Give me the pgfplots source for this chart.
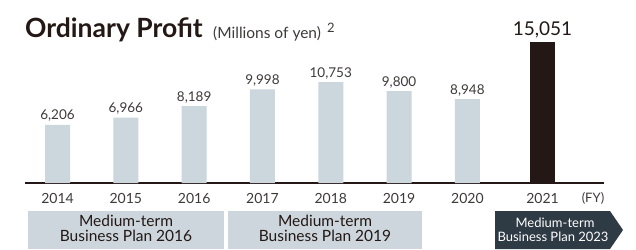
\documentclass[border=0pt]{standalone}
\usepackage{pgfplots}
\pgfplotsset{compat=1.18}
\usepackage{fontspec}
\setmainfont{Lato}
\definecolor{barlight}{RGB}{203,214,221}
\definecolor{bardark}{RGB}{35,24,21}
\definecolor{bandlight}{RGB}{204,214,220}
\definecolor{banddark}{RGB}{46,58,68}
\definecolor{txt}{RGB}{62,58,57}
\newcommand{\fs}[1]{\fontsize{#1}{#1}\selectfont}
\begin{document}
\begin{tikzpicture}[x=1bp,y=1bp]
\useasboundingbox (0,0) rectangle (636,249);
% title
\node[anchor=base west, inner sep=0pt, text=bardark] at (25,211.3) {\fs{26.5bp}\bfseries Ordinary Profit};
\node[anchor=base west, inner sep=0pt, text=txt] at (213,211) {\fs{15.5bp}(Millions of yen)};
\node[anchor=base west, inner sep=0pt, text=txt] at (327,217) {\fs{13bp}2};
\begin{axis}[
  at={(25bp,66bp)}, anchor=south west,
  scale only axis, width=579bp, height=150bp,
  xmin=-0.476, xmax=8.0, ymin=0, ymax=16000,
  axis x line=bottom, axis y line=none,
  x axis line style={-, line width=1.1bp, color=bardark},
  xtick={0,1,2,3,4,5,6,7.1},
  xticklabels={2014,2015,2016,2017,2018,2019,2020,2021},
  major tick length=0pt,
  x tick label style={anchor=center, yshift=-15bp, font=\fs{14bp}, text=txt},
  ybar, bar width=25bp, bar shift=0pt,
  /pgf/number format/.cd, 1000 sep={,}, assume math mode=true,
  /pgfplots/.cd,
  nodes near coords,
  every node near coord/.append style={anchor=base, inner sep=0pt, yshift=5bp, text=txt, font=\fs{13.5bp}},
  clip=false,
]
\addplot[fill=barlight, draw=none] coordinates {
  (0,6206) (1,6966) (2,8189) (3,9998) (4,10753) (5,9800) (6,8948)
};
\addplot[fill=bardark, draw=none,
  every node near coord/.append style={font=\fs{19bp}, text=bardark, yshift=1bp}] coordinates {
  (7.1,15051)
};
\end{axis}
\node[anchor=center, text=txt] at (593,51) {\fs{13bp}(FY)};
% bands
\fill[bandlight] (28,0) rectangle (224,38);
\fill[bandlight] (228,0) rectangle (422,38);
\fill[banddark] (495,0) -- (495,38) -- (610,38) -- (623,19) -- (610,0) -- cycle;
\node[anchor=base, inner sep=0pt, text=bardark] at (126,22.5) {\fs{15.5bp}Medium-term};
\node[anchor=base, inner sep=0pt, text=bardark] at (126,8) {\fs{15.5bp}Business Plan 2016};
\node[anchor=base, inner sep=0pt, text=bardark] at (325,22.5) {\fs{15.5bp}Medium-term};
\node[anchor=base, inner sep=0pt, text=bardark] at (325,8) {\fs{15.5bp}Business Plan 2019};
\node[anchor=base, inner sep=0pt, text=white] at (555,21.5) {\fs{13bp}Medium-term};
\node[anchor=base, inner sep=0pt, text=white] at (553,8) {\fs{13bp}Business Plan 2023};
\end{tikzpicture}
\end{document}
